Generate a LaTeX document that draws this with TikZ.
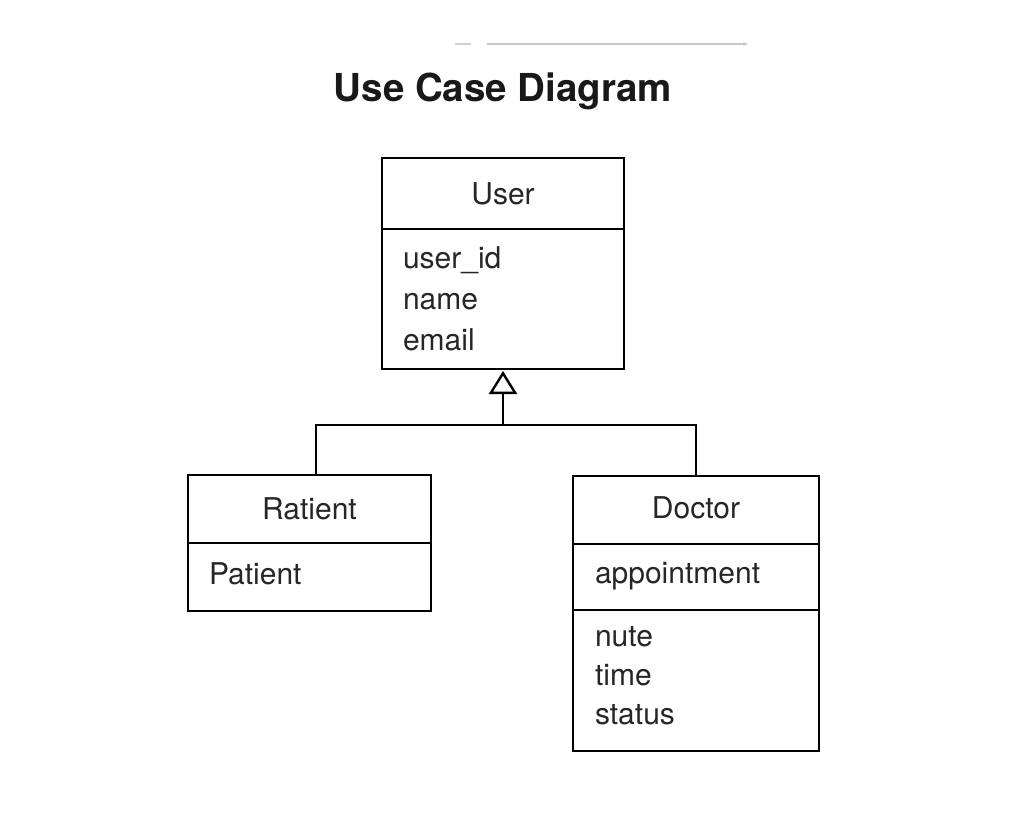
\documentclass[tikz,border=0pt]{standalone}
\usepackage{fontspec}
\setmainfont{TeX Gyre Heros}
\usetikzlibrary{positioning,arrows.meta}

\tikzset{
  classhead/.style={draw, rectangle, line width=2.6pt, inner sep=0pt, outer sep=0pt,
    font=\fontsize{30}{41}\selectfont, text=black!85},
  classattr/.style={draw, rectangle, line width=2.6pt, inner xsep=21pt, inner ysep=0pt, outer sep=0pt,
    align=left, font=\fontsize{30}{41}\selectfont, text=black!85},
  genline/.style={line width=2.6pt},
}

\begin{document}
\begin{tikzpicture}[x=1pt,y=-1pt]
    \useasboundingbox (0,0) rectangle (1024,823);

    % Faint line at the top
    \coordinate (fa) at (455,44);
    \coordinate (fb) at (471,44);
    \coordinate (fc) at (487,44);
    \coordinate (fd) at (748,44);
    \draw[black!18, line width=1.2pt] (fa) -- (fb);
    \draw[black!22, line width=1.5pt, -{Stealth[length=5pt]}] (fc) -- (fd);

    % Title
    \node[font=\fontsize{38.5}{46}\selectfont\bfseries, text=black!90] (title) at (503,91) {Use Case Diagram};

    % User class
    \node[classhead, minimum width=242, minimum height=71] (user) at (503,193.5) {User};
    \node[classattr, minimum width=242, minimum height=140, text width=200, text depth=82pt,
        below=0pt of user] (userattr) {user\_id\\name\\email};

    % Patient class
    \node[classhead, minimum width=243, minimum height=68] (patient) at (309.5,509) {Ratient};
    \node[classattr, minimum width=243, minimum height=68, text width=201, text depth=7pt,
        below=0pt of patient] (patientattr) {Patient};

    % Doctor class
    \node[classhead, minimum width=246, minimum height=68, text depth=4pt] (doctor) at (696,510) {Doctor};
    \node[classattr, minimum width=246, minimum height=66, text width=202, text depth=8pt,
        below=0pt of doctor] (doctorop) {appointment};
    \node[classattr, minimum width=246, minimum height=141, text width=202, text depth=88pt,
        font=\fontsize{30}{39}\selectfont, below=0pt of doctorop] (doctorattr) {nute\\time\\status};

    % Generalization
    \coordinate (join) at (503,425);
    \draw[genline, -{Triangle[open, width=28pt, length=23pt, line width=2.4pt]}] (join) -- ([yshift=-2pt]userattr.south);
    \draw[genline] ([xshift=6.5pt]patient.north) |- (join) -| (doctor.north);
\end{tikzpicture}
\end{document}
